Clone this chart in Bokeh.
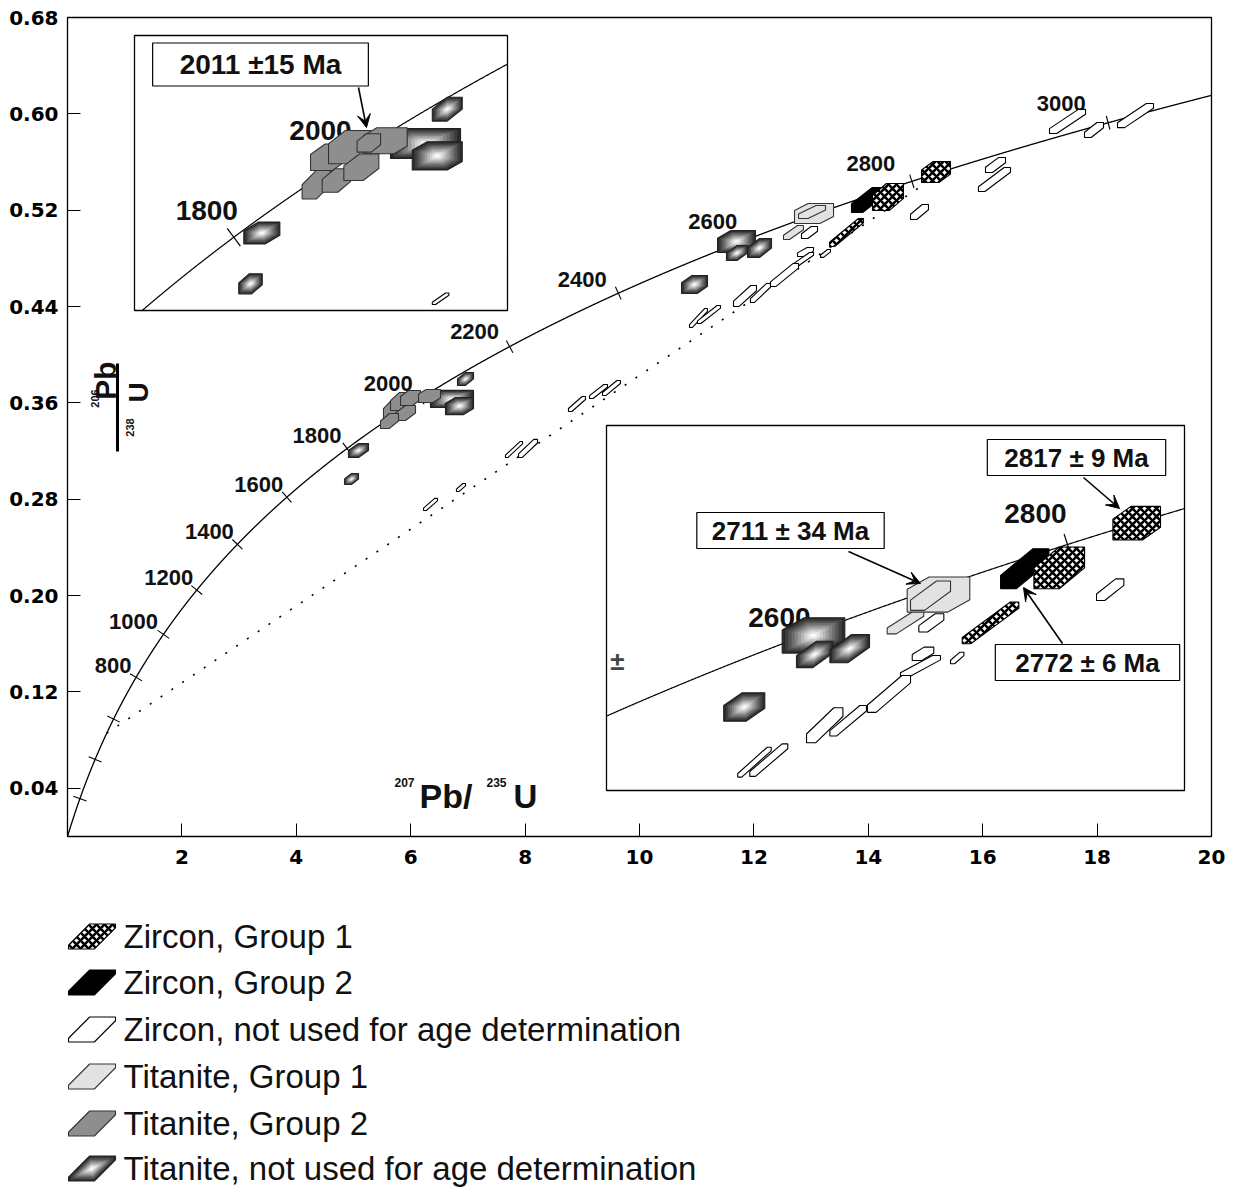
import numpy as np
from bokeh.plotting import figure
from bokeh.models import (Range1d, FixedTicker, PrintfTickFormatter, ColumnDataSource,
                          Label, Arrow, VeeHead)
from bokeh.layouts import column
from bokeh.embed import file_html
from bokeh.resources import INLINE
from bokeh.core.properties import value

# ---------------- data ----------------
LAMBDA_238 = 0.155125   # 1/Ga
LAMBDA_235 = 0.98485    # 1/Ga

age_ticks_ma = [200, 400, 600, 800, 1000, 1200, 1400, 1600, 1800, 2000, 2200, 2400, 2600, 2800, 3000]
age_labels_ma = [800, 1000, 1200, 1400, 1600, 1800, 2000, 2200, 2400, 2600, 2800, 3000]
discordia_ma = [530, 2835]

x_ticks = [2, 4, 6, 8, 10, 12, 14, 16, 18, 20]
y_ticks = [0.04, 0.12, 0.20, 0.28, 0.36, 0.44, 0.52, 0.60, 0.68]

# analyses: (207Pb/235U, 206Pb/238U, err x, err y, box shape)
main_zr1 = [(14.344, 0.5310, 0.271, 0.0112, 0.55), (15.184, 0.5517, 0.253, 0.0087, 0.60),
            (13.619, 0.5015, 0.297, 0.0116, 0.15)]
main_zr2 = [(13.986, 0.5285, 0.280, 0.0104, 0.35)]
main_zrn = [(12.972, 0.5015, 0.140, 0.0050, 0.40), (14.895, 0.5185, 0.157, 0.0062, 0.35),
            (13.252, 0.4841, 0.087, 0.0033, 0.30), (12.902, 0.4853, 0.140, 0.0037, 0.40),
            (12.867, 0.4791, 0.175, 0.0058, 0.20), (12.535, 0.4662, 0.245, 0.0095, 0.20),
            (12.115, 0.4513, 0.175, 0.0079, 0.20), (11.844, 0.4488, 0.201, 0.0087, 0.25),
            (11.031, 0.4305, 0.157, 0.0079, 0.15), (11.215, 0.4334, 0.201, 0.0075, 0.15),
            (17.483, 0.5937, 0.315, 0.0100, 0.20), (17.946, 0.5866, 0.166, 0.0062, 0.35),
            (18.671, 0.5986, 0.315, 0.0100, 0.20), (16.224, 0.5575, 0.175, 0.0062, 0.35),
            (16.206, 0.5455, 0.280, 0.0100, 0.20), (6.346, 0.2757, 0.122, 0.0050, 0.20),
            (6.879, 0.2898, 0.079, 0.0033, 0.30), (7.806, 0.3213, 0.149, 0.0066, 0.15),
            (8.051, 0.3222, 0.166, 0.0075, 0.20), (8.907, 0.3591, 0.149, 0.0062, 0.20),
            (9.283, 0.3695, 0.157, 0.0058, 0.20), (9.510, 0.3724, 0.157, 0.0062, 0.20)]
main_ti1 = [(12.692, 0.5015, 0.175, 0.0058, 0.30), (13.051, 0.5173, 0.341, 0.0083, 0.65),
            (13.016, 0.5185, 0.236, 0.0054, 0.35)]
main_ti2 = [(5.673, 0.3545, 0.149, 0.0075, 0.55), (5.822, 0.3612, 0.175, 0.0075, 0.55),
            (5.997, 0.3641, 0.175, 0.0062, 0.60), (5.909, 0.3516, 0.175, 0.0062, 0.50),
            (5.629, 0.3450, 0.157, 0.0062, 0.50), (6.329, 0.3657, 0.192, 0.0054, 0.65)]
main_tin = [(11.696, 0.4940, 0.332, 0.0091, 0.65), (11.705, 0.4845, 0.184, 0.0062, 0.50),
            (12.098, 0.4886, 0.210, 0.0079, 0.50), (10.962, 0.4583, 0.227, 0.0075, 0.60),
            (6.958, 0.3799, 0.140, 0.0054, 0.50), (6.722, 0.3633, 0.376, 0.0071, 0.75),
            (6.853, 0.3574, 0.245, 0.0071, 0.65), (5.087, 0.3205, 0.175, 0.0058, 0.50),
            (4.965, 0.2968, 0.122, 0.0046, 0.50)]

inset1_window = (3.906, 7.591, 0.2878, 0.4166)
inset1_tin = [(6.996, 0.3821, 0.148, 0.0056, 0.50), (6.781, 0.3660, 0.346, 0.0070, 0.80),
              (6.897, 0.3602, 0.247, 0.0066, 0.70), (5.164, 0.3241, 0.178, 0.0051, 0.60),
              (5.052, 0.3003, 0.116, 0.0047, 0.55)]
inset1_ti2 = [(5.826, 0.3596, 0.181, 0.0062, 0.60), (6.031, 0.3643, 0.208, 0.0078, 0.60),
              (6.386, 0.3673, 0.214, 0.0061, 0.70), (5.702, 0.3467, 0.140, 0.0067, 0.50),
              (5.900, 0.3487, 0.140, 0.0055, 0.55), (6.147, 0.3549, 0.173, 0.0062, 0.55),
              (6.221, 0.3663, 0.116, 0.0043, 0.60)]
inset1_zrn = [(6.930, 0.2933, 0.082, 0.0027, 0.20)]
inset1_ages = [1800, 2000]

inset2_window = (9.669, 16.055, 0.4120, 0.6078)
inset2_tin = [(11.956, 0.4952, 0.346, 0.0095, 0.65), (11.969, 0.4850, 0.201, 0.0071, 0.45),
              (12.356, 0.4881, 0.219, 0.0076, 0.45), (11.191, 0.4568, 0.227, 0.0076, 0.55)]
inset2_ti1 = [(12.972, 0.5023, 0.202, 0.0063, 0.25), (13.337, 0.5171, 0.346, 0.0094, 0.65),
              (13.249, 0.5165, 0.221, 0.0079, 0.35)]
inset2_zr2 = [(14.290, 0.5310, 0.267, 0.0107, 0.33)]
inset2_zr1 = [(14.671, 0.5314, 0.280, 0.0112, 0.50), (15.527, 0.5554, 0.263, 0.0090, 0.62),
              (13.912, 0.5019, 0.313, 0.0112, 0.15)]
inset2_zrn = [(13.258, 0.5019, 0.138, 0.0049, 0.35), (13.166, 0.4853, 0.119, 0.0036, 0.45),
              (13.138, 0.4786, 0.221, 0.0058, 0.20), (13.544, 0.4831, 0.074, 0.0031, 0.30),
              (12.790, 0.4638, 0.238, 0.0099, 0.20), (12.080, 0.4470, 0.201, 0.0094, 0.25),
              (12.339, 0.4494, 0.202, 0.0082, 0.18), (11.304, 0.4272, 0.185, 0.0080, 0.12),
              (11.462, 0.4283, 0.210, 0.0087, 0.15), (15.234, 0.5197, 0.151, 0.0058, 0.30)]
inset2_ages = [2600, 2800]

ages_text = ["2011 \u00b115 Ma", "2711 \u00b1 34 Ma", "2817 \u00b1 9 Ma", "2772 \u00b1 6 Ma"]

legend_labels = ["Zircon, Group 1", "Zircon, Group 2", "Zircon, not used for age determination",
                 "Titanite, Group 1", "Titanite, Group 2", "Titanite, not used for age determination"]
legend_kinds = ["zr1", "zr2", "zrn", "ti1", "ti2", "tin"]

# ---------------- layout constants (page pixels) ----------------
W = 1227
FX0, FX1, FY0, FY1 = 67, 1211, 17, 836
SX = (FX1 - FX0) / 20.0
SY = (FY1 - FY0) / 0.68
MAIN_H = 876


def px(xp):
    return (xp - FX0) / SX


def py(yp):
    return (FY1 - yp) / SY


def conc(ages_ma):
    t = np.asarray(ages_ma, dtype=float) / 1000.0
    return np.expm1(LAMBDA_235 * t), np.expm1(LAMBDA_238 * t)


def tick_angles(ages_ma, ratio):
    x, y = conc(ages_ma)
    slope = (LAMBDA_238 * (1 + y)) / (LAMBDA_235 * (1 + x)) * ratio
    return np.arctan(slope) + np.pi / 2


def hexagon(cx, cy, ex, ey, t, b=None):
    u = [-1, -1 + 2 * t, 1, 1, 1 - 2 * t, -1]
    bb = (1 - 2 * t) if b is None else b
    v = [-1, -1, bb, 1, 1, -bb]
    return [cx + ex * a for a in u], [cy + ey * c for c in v]


STYLE = {
    "zr1": dict(fill_color="white", line_color="black", line_width=1.1,
                hatch_pattern="diagonal_cross", hatch_scale=8, hatch_color="black",
                hatch_weight=2.6),
    "zr2": dict(fill_color="black", line_color="black", line_width=1.1),
    "zrn": dict(fill_color="white", line_color="black", line_width=1.1),
    "ti1": dict(fill_color="#e2e2e2", line_color="#333333", line_width=1.1),
    "ti2": dict(fill_color="#8e8e8e", line_color="#333333", line_width=1.1),
}
GRAD_SCALES = [1.0, 0.9, 0.8, 0.7, 0.6, 0.5, 0.4, 0.3, 0.2, 0.1]
GRAD_COLORS = ["#2b2b2b", "#3f3f3f", "#555555", "#6c6c6c", "#848484", "#9d9d9d",
               "#b6b6b6", "#cfcfcf", "#e6e6e6", "#fbfbfb"]


def draw_group(fig, shapes, kind, b=None, **kw):
    if not shapes:
        return
    if kind == "tin":
        xs, ys, fc, la = [], [], [], []
        for (x, y, ex, ey, t) in shapes:
            for i, (s, c) in enumerate(zip(GRAD_SCALES, GRAD_COLORS)):
                hx, hy = hexagon(x, y, ex * s, ey * s, t, b)
                xs.append(hx); ys.append(hy); fc.append(c); la.append(1.0 if i == 0 else 0.0)
        src = ColumnDataSource(dict(xs=xs, ys=ys, fc=fc, la=la))
        fig.patches("xs", "ys", source=src, fill_color="fc", line_color="#222222",
                    line_alpha="la", line_width=1.1, **kw)
    else:
        xs, ys = [], []
        for (x, y, ex, ey, t) in shapes:
            hx, hy = hexagon(x, y, ex, ey, t, b)
            xs.append(hx); ys.append(hy)
        fig.patches(xs, ys, **STYLE[kind], **kw)


# ---------------- main figure ----------------
p = figure(width=W, height=MAIN_H, x_range=Range1d(0, 20), y_range=Range1d(0, 0.68),
           output_backend="svg", toolbar_location=None,
           min_border_left=FX0, min_border_right=W - FX1, min_border_top=FY0,
           min_border_bottom=MAIN_H - FY1)
p.xgrid.visible = False
p.ygrid.visible = False
p.outline_line_color = "black"
p.outline_line_width = 1.3
p.xaxis.ticker = FixedTicker(ticks=x_ticks)
p.yaxis.ticker = FixedTicker(ticks=y_ticks)
p.yaxis.formatter = PrintfTickFormatter(format="%.2f")
for ax in p.axis:
    ax.major_tick_in = 13
    ax.major_tick_out = 0
    ax.minor_tick_line_color = None
    ax.axis_line_color = None
    ax.major_tick_line_color = "black"
    ax.major_label_text_font = "DejaVu Sans"
    ax.major_label_text_font_style = "bold"
    ax.major_label_text_font_size = "20px"
    ax.major_label_text_color = "black"
p.xaxis.major_label_standoff = 13
p.yaxis.major_label_standoff = 9

# concordia
tt = np.linspace(0, 3200, 6401)
cx, cy = conc(tt)
keep = cx <= 20.3
p.line(cx[keep], cy[keep], line_color="black", line_width=1.3)

# discordia (dotted)
dxl, dyl = conc(discordia_ma)
p.line(dxl, dyl, line_color="black", line_width=1.6, line_dash="2 11")

ratio_main = SY / SX
tx, ty = conc(age_ticks_ma)
p.scatter(tx, ty, marker="dash", size=14, angle=tick_angles(age_ticks_ma, ratio_main),
          line_color="black", line_width=1.1)
main_label_offsets = [(-23, -12), (-30, -13), (-28, -13), (-28, -13), (-28, -13), (-30, -13),
                      (-32, -15), (-35, -15), (-36, -14), (-38, -17), (-41, -18), (-47, -19)]
lx, ly = conc(age_labels_ma)
p.text(lx, ly, text=[str(a) for a in age_labels_ma], text_font=value("Liberation Sans"),
       text_font_style="bold", text_font_size="22px", text_align="center",
       text_baseline="middle", x_offset=[o[0] for o in main_label_offsets],
       y_offset=[o[1] for o in main_label_offsets], text_color="#111111")

for shapes, kind in [(main_tin, "tin"), (main_ti2, "ti2"), (main_ti1, "ti1"),
                     (main_zrn, "zrn"), (main_zr2, "zr2"), (main_zr1, "zr1")]:
    draw_group(p, shapes, kind)

# ---------------- insets ----------------
p.extra_x_ranges = {}
p.extra_y_ranges = {}


def build_inset(name, box, window, groups, ages, label_offsets):
    bx0, by0, bx1, by1 = box
    xw0, xw1, yw0, yw1 = window
    fx0 = (bx0 - FX0) / (FX1 - FX0)
    fx1 = (bx1 - FX0) / (FX1 - FX0)
    fy0 = (FY1 - by1) / (FY1 - FY0)
    fy1 = (FY1 - by0) / (FY1 - FY0)
    spx = (xw1 - xw0) / (fx1 - fx0)
    spy = (yw1 - yw0) / (fy1 - fy0)
    p.extra_x_ranges[name + "x"] = Range1d(xw0 - fx0 * spx, xw0 - fx0 * spx + spx)
    p.extra_y_ranges[name + "y"] = Range1d(yw0 - fy0 * spy, yw0 - fy0 * spy + spy)
    kw = dict(x_range_name=name + "x", y_range_name=name + "y")
    p.quad(left=[xw0], right=[xw1], bottom=[yw0], top=[yw1], fill_color="white",
           line_color="black", line_width=1.3, **kw)
    m = (cx >= xw0) & (cx <= xw1) & (cy >= yw0) & (cy <= yw1)
    p.line(cx[m], cy[m], line_color="black", line_width=1.2, **kw)
    ratio = ((by1 - by0) / (yw1 - yw0)) / ((bx1 - bx0) / (xw1 - xw0))
    ax_, ay_ = conc(ages)
    p.scatter(ax_, ay_, marker="dash", size=22, angle=tick_angles(ages, ratio),
              line_color="black", line_width=1.2, **kw)
    for a, xa, ya, (ox, oy) in zip(ages, ax_, ay_, label_offsets):
        p.text([xa], [ya], text=[str(a)], text_font=value("Liberation Sans"),
               text_font_style="bold", text_font_size="28px", text_align="center",
               text_baseline="middle", x_offset=ox, y_offset=oy, text_color="#111111", **kw)
    for shapes, kind in groups:
        draw_group(p, shapes, kind, **kw)


build_inset("in1", (134, 35, 507, 310), inset1_window,
            [(inset1_tin, "tin"), (inset1_ti2, "ti2"), (inset1_zrn, "zrn")],
            inset1_ages, [(-27, -27), (-43, -18)])
build_inset("in2", (606, 425, 1184, 790), inset2_window,
            [(inset2_tin, "tin"), (inset2_ti1, "ti1"), (inset2_zrn, "zrn"),
             (inset2_zr2, "zr2"), (inset2_zr1, "zr1")],
            inset2_ages, [(-33, -15), (-32, -31)])

# age boxes and arrows
box_pos = [(260, 64), (790, 530), (1076, 457), (1087, 662)]
box_font = ["28px", "26px", "26px", "26px"]
box_pad = [(27, 6), (15, 3), (17, 3), (20, 3)]
for txt, (bx, by), fs, pad in zip(ages_text, box_pos, box_font, box_pad):
    p.add_layout(Label(x=px(bx), y=py(by), text=txt, text_font="Liberation Sans",
                       text_font_style="bold", text_font_size=fs, text_align="center",
                       text_baseline="middle", background_fill_color="white",
                       border_line_color="black", border_line_width=1.2, padding=pad,
                       text_color="#111111"))
arrows = [((358, 87), (366, 127)), ((848, 551), (920, 583)),
          ((1083, 477), (1119, 508)), ((1062, 643), (1023, 587))]
for (x0, y0), (x1, y1) in arrows:
    p.add_layout(Arrow(end=VeeHead(size=13, fill_color="black", line_color="black"),
                       x_start=px(x0), y_start=py(y0), x_end=px(x1), y_end=py(y1),
                       line_width=1.6, line_color="black"))
p.add_layout(Label(x=px(617), y=py(660), text="\u00b1", text_font="Liberation Sans",
                   text_font_style="bold", text_font_size="26px", text_align="center",
                   text_baseline="middle"))


def add_txt(x, y, t, size, align="left", angle=0.0):
    p.add_layout(Label(x=px(x), y=py(y), text=t, text_font="Liberation Sans",
                       text_font_style="bold", text_font_size=size, text_align=align,
                       text_baseline="middle", angle=angle, text_color="#111111"))


# axis titles (inside the frame)
add_txt(394, 782, "207", "12px")
add_txt(419, 795, "Pb/", "34px")
add_txt(486, 782, "235", "12px")
add_txt(513, 796, "U", "33px")

add_txt(94, 398, "206", "11px", "center", np.pi / 2)
add_txt(105, 380, "Pb", "30px", "center", np.pi / 2)
p.segment(x0=[px(117)], y0=[py(363)], x1=[px(117)], y1=[py(451)], line_color="black",
          line_width=3)
add_txt(129, 427, "238", "11px", "center", np.pi / 2)
add_txt(138, 392, "U", "28px", "center", np.pi / 2)

# ---------------- legend figure (coordinates = page pixels) ----------------
PAGE_H = 1189
leg = figure(width=W, height=PAGE_H - MAIN_H, x_range=Range1d(FX0, FX1),
             y_range=Range1d(PAGE_H, MAIN_H), output_backend="svg", toolbar_location=None,
             min_border_left=FX0, min_border_right=W - FX1, min_border_top=0,
             min_border_bottom=0, x_axis_type=None, y_axis_type=None)
leg.grid.visible = False
leg.outline_line_color = None
row_y = [936, 982, 1029, 1076, 1123, 1168]
for kind, label, yy in zip(legend_kinds, legend_labels, row_y):
    draw_group(leg, [(91.5, yy, 23.5, -12.5, 0.55)], kind, b=0.7)
    leg.text([123], [yy], text=[label], text_font=value("Liberation Sans"),
             text_font_size="33px", text_align="left", text_baseline="middle",
             text_color="#111111")

layout = column(p, leg, spacing=0)
open("out.html", "w").write(file_html(layout, INLINE))
